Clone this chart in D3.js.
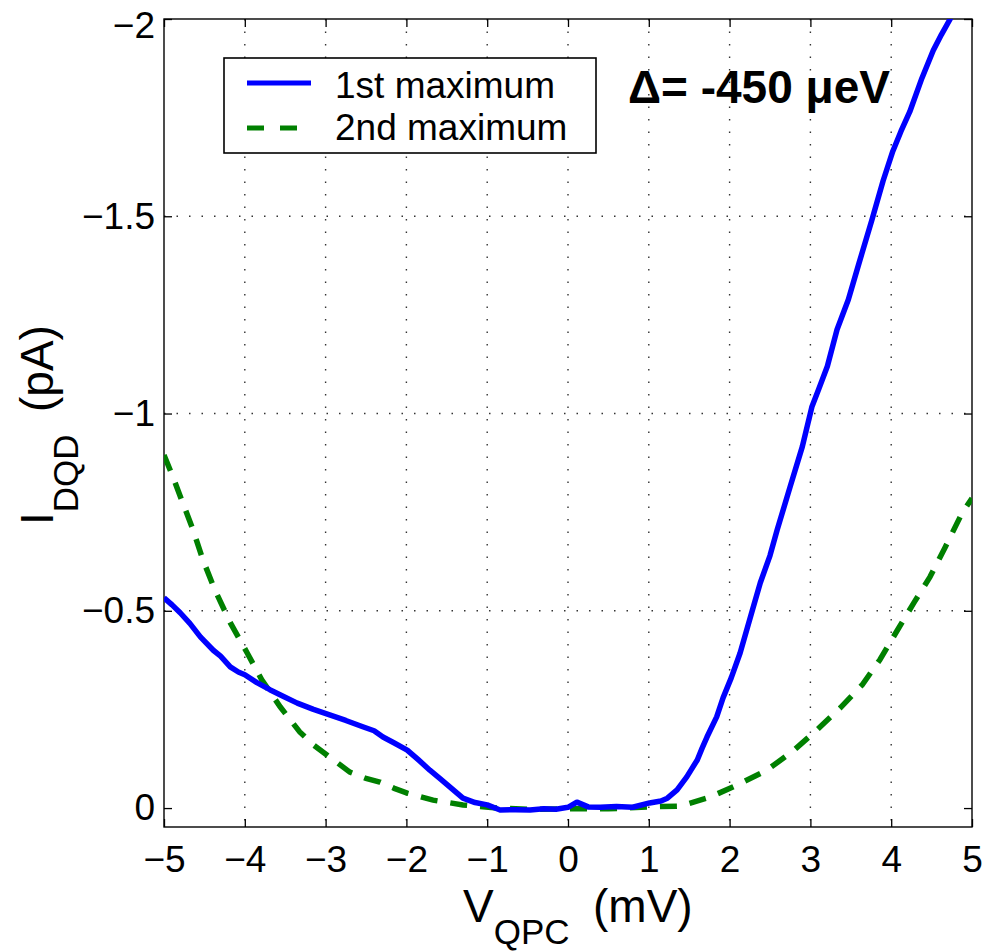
<!DOCTYPE html>
<html>
<head>
<meta charset="utf-8">
<script src="https://cdn.jsdelivr.net/npm/d3@7"></script>
<style>
  body { margin: 0; background: #fff; }
  text { font-family: "Liberation Sans", Arial, Helvetica, sans-serif; fill: #000; }
</style>
</head>
<body>
<div id="chart"></div>
<script>
// V_QPC (mV) / I_DQD (pA)
var blueV = [-5.00,-4.90,-4.80,-4.68,-4.55,-4.39,-4.30,-4.18,-4.08,-4.00,-3.85,-3.69,-3.52,-3.35,-3.15,-2.95,-2.75,-2.54,-2.40,-2.29,-2.15,-1.99,-1.85,-1.71,-1.58,-1.46,-1.30,-1.15,-1.00,-0.84,-0.65,-0.47,-0.30,-0.15,0.00,0.11,0.25,0.40,0.60,0.80,1.01,1.15,1.23,1.35,1.47,1.60,1.66,1.72,1.84,1.92,2.02,2.13,2.28,2.38,2.50,2.59,2.75,2.90,3.02,3.10,3.21,3.33,3.47,3.60,3.76,3.90,4.02,4.12,4.23,4.38,4.52,4.62,4.73,4.80];
var blueI = [-0.533,-0.515,-0.495,-0.468,-0.434,-0.400,-0.385,-0.358,-0.345,-0.338,-0.318,-0.300,-0.283,-0.266,-0.250,-0.236,-0.222,-0.206,-0.196,-0.180,-0.165,-0.147,-0.122,-0.096,-0.074,-0.053,-0.025,-0.014,-0.008,0.005,0.004,0.005,0.002,0.003,-0.002,-0.015,-0.003,-0.002,-0.004,-0.002,-0.013,-0.018,-0.025,-0.046,-0.079,-0.122,-0.152,-0.180,-0.231,-0.280,-0.330,-0.393,-0.500,-0.571,-0.640,-0.706,-0.815,-0.916,-1.018,-1.060,-1.120,-1.213,-1.289,-1.380,-1.490,-1.590,-1.665,-1.715,-1.765,-1.850,-1.920,-1.960,-2.000,-2.040];

var greenV = [-5.00,-4.90,-4.78,-4.64,-4.52,-4.37,-4.18,-3.97,-3.79,-3.56,-3.32,-3.15,-2.98,-2.70,-2.50,-2.33,-2.15,-1.99,-1.67,-1.30,-0.88,-0.50,0.00,0.50,1.01,1.39,1.76,2.09,2.46,2.77,3.08,3.37,3.64,3.86,4.08,4.28,4.48,4.67,4.88,5.00];
var greenI = [-0.895,-0.845,-0.780,-0.705,-0.630,-0.553,-0.470,-0.393,-0.325,-0.256,-0.193,-0.160,-0.134,-0.091,-0.075,-0.066,-0.050,-0.038,-0.020,-0.008,0.000,0.003,0.002,0.002,-0.003,-0.005,-0.028,-0.058,-0.096,-0.142,-0.198,-0.254,-0.312,-0.376,-0.452,-0.520,-0.586,-0.662,-0.749,-0.785];

var xTicks = [-5,-4,-3,-2,-1,0,1,2,3,4,5];
var yTicks = [0,-0.5,-1,-1.5,-2];
var seriesNames = ['1st maximum', '2nd maximum'];

var W = 986, H = 951;
// plot box (don't call it "top", that's window.top)
var pL = 164, pR = 972, pT = 19, pB = 827;

var svg = d3.select('#chart').append('svg')
  .attr('width', W)
  .attr('height', H);

var x = d3.scaleLinear().domain([-5, 5]).range([pL, pR]);
var y = d3.scaleLinear().domain([0.048, -2]).range([pB, pT]);
var fmt = d3.format('~g');

svg.append('defs').append('clipPath').attr('id', 'plotclip')
  .append('rect')
    .attr('x', pL).attr('y', pT)
    .attr('width', pR - pL).attr('height', pB - pT);

// dotted grid
var grid = svg.append('g').attr('stroke', '#333').attr('stroke-width', 1.4)
  .attr('stroke-dasharray', '1.5,11');
grid.selectAll('.vg').data(xTicks.slice(1, -1)).enter().append('line')
  .attr('x1', x).attr('x2', x)
  .attr('y1', pT).attr('y2', pB);
grid.selectAll('.hg').data(yTicks.slice(1, -1)).enter().append('line')
  .attr('y1', y).attr('y2', y)
  .attr('x1', pL).attr('x2', pR);

// axes, ticks inward like matlab
function styleAxis(g) {
  g.select('.domain').remove();
  g.selectAll('.tick line').attr('stroke', '#000').attr('stroke-width', 1.3);
  g.selectAll('.tick text')
    .style('font-size', '37px')
    .style('font-family', '"Liberation Sans", Arial, sans-serif')
    .attr('fill', '#000');
}

svg.append('g').attr('transform', 'translate(0,' + pB + ')')
  .call(d3.axisBottom(x).tickValues(xTicks).tickFormat(fmt)
    .tickSizeInner(-8).tickSizeOuter(0).tickPadding(19))
  .call(styleAxis);
var yAxisG = svg.append('g').attr('transform', 'translate(' + pL + ',0)')
  .call(d3.axisLeft(y).tickValues(yTicks).tickFormat(fmt)
    .tickSizeInner(-8).tickSizeOuter(0).tickPadding(9))
  .call(styleAxis);
// top label sits at the edge of the page, nudge it down so it isn't cut
yAxisG.selectAll('.tick text').filter(function(d) { return d == -2; })
  .attr('dy', '0.5em');
svg.append('g').attr('transform', 'translate(0,' + pT + ')')
  .call(d3.axisTop(x).tickValues(xTicks).tickFormat('')
    .tickSizeInner(-8).tickSizeOuter(0))
  .call(styleAxis);
svg.append('g').attr('transform', 'translate(' + pR + ',0)')
  .call(d3.axisRight(y).tickValues(yTicks).tickFormat('')
    .tickSizeInner(-8).tickSizeOuter(0))
  .call(styleAxis);

svg.append('rect')
  .attr('x', pL).attr('y', pT)
  .attr('width', pR - pL).attr('height', pB - pT)
  .attr('fill', 'none').attr('stroke', '#000').attr('stroke-width', 1.4);

// curves
var line = d3.line().x(function(d) { return x(d[0]); }).y(function(d) { return y(d[1]); });
var plot = svg.append('g').attr('clip-path', 'url(#plotclip)');

plot.append('path')
  .datum(greenV.map(function(v, i) { return [v, greenI[i]]; }))
  .attr('d', line)
  .attr('fill', 'none').attr('stroke', '#008000').attr('stroke-width', 5.5)
  .attr('stroke-dasharray', '17,13');

plot.append('path')
  .datum(blueV.map(function(v, i) { return [v, blueI[i]]; }))
  .attr('d', line)
  .attr('fill', 'none').attr('stroke', '#0000ff').attr('stroke-width', 5.5)
  .attr('stroke-linejoin', 'round');

// legend
var lg = svg.append('g');
lg.append('rect')
  .attr('x', 224).attr('y', 58).attr('width', 372).attr('height', 95)
  .attr('fill', '#fff').attr('stroke', '#000').attr('stroke-width', 1.6);
lg.append('line')
  .attr('x1', 247).attr('x2', 311).attr('y1', 83).attr('y2', 83)
  .attr('stroke', '#0000ff').attr('stroke-width', 5);
lg.append('line')
  .attr('x1', 247).attr('x2', 311).attr('y1', 128).attr('y2', 128)
  .attr('stroke', '#008000').attr('stroke-width', 5)
  .attr('stroke-dasharray', '17,16');
lg.selectAll('text.lab').data(seriesNames).enter().append('text')
  .attr('x', 335)
  .attr('y', function(d, i) { return i == 0 ? 98 : 140; })
  .style('font-size', '37px')
  .text(function(d) { return d; });

// annotation
svg.append('text')
  .attr('x', 628).attr('y', 103)
  .style('font-size', '46px').style('font-weight', 'bold')
  .text('\u0394= -450 \u03bceV');

// x label
var xl = svg.append('text').attr('x', 463).attr('y', 922).style('font-size', '46px');
xl.append('tspan').text('V');
xl.append('tspan').attr('dy', 22).style('font-size', '35px').text('QPC');
xl.append('tspan').attr('x', 593).attr('dy', -22).text('(mV)');

// y label
var yl = svg.append('text').attr('transform', 'translate(53,525) rotate(-90)')
  .style('font-size', '46px');
yl.append('tspan').text('I');
yl.append('tspan').attr('dy', 25).style('font-size', '35px').text('DQD');
yl.append('tspan').attr('x', 113).attr('dy', -25).text('(pA)');
</script>
</body>
</html>
